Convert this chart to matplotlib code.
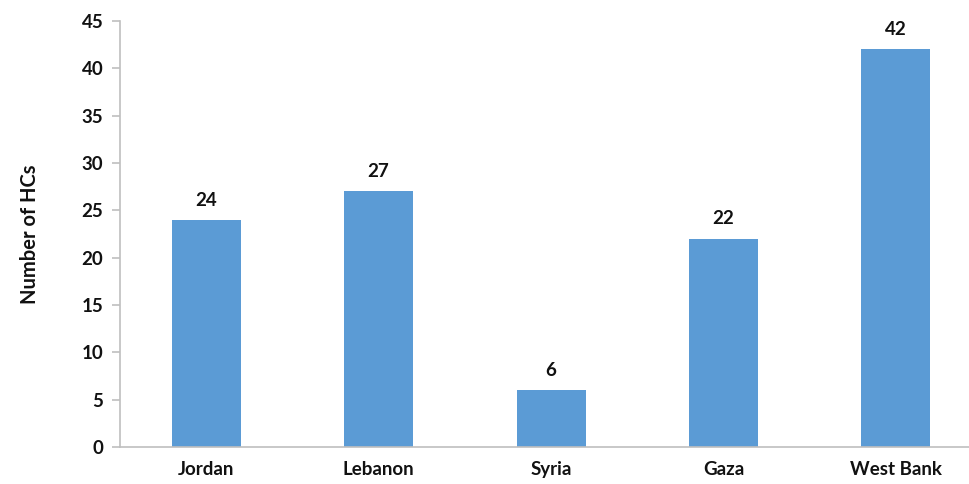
import matplotlib
matplotlib.use("Agg")
import matplotlib.pyplot as plt

# Dati
categories = ["Jordan", "Lebanon", "Syria", "Gaza", "West Bank"]
values = [24, 27, 6, 22, 42]
y_ticks = [0, 5, 10, 15, 20, 25, 30, 35, 40, 45]

plt.rcParams['font.family'] = ['Lato', 'DejaVu Sans']

fig = plt.figure(figsize=(9.7, 4.84), dpi=100)
ax = fig.add_axes([0.1237, 0.0764, 0.8763, 0.880])

x = range(len(categories))
bars = ax.bar(x, values, width=0.4, color='#5B9BD5', zorder=2)

for xi, v in zip(x, values):
    ax.text(xi, v + 1.2, str(v), ha='center', va='bottom', fontsize=13.5, fontweight='bold', color='#111111')

ax.set_xlim(-0.5, 4.43)
ax.set_ylim(0, 45)
ax.set_yticks(y_ticks)
ax.set_xticks(list(x))
ax.set_xticklabels(categories)

for side in ['top', 'right']:
    ax.spines[side].set_visible(False)
for side in ['left', 'bottom']:
    ax.spines[side].set_color('#BFBFBF')
    ax.spines[side].set_linewidth(1.2)

ax.tick_params(axis='y', length=6, width=1.2, color='#BFBFBF', pad=6, labelsize=13.5, labelcolor='#111111')
ax.tick_params(axis='x', length=0, pad=10, labelsize=13.5, labelcolor='#111111')
for lbl in ax.get_xticklabels() + ax.get_yticklabels():
    lbl.set_fontweight('bold')

ax.set_ylabel('Number of HCs', fontsize=14.5, fontweight='bold', color='#111111', labelpad=30)

plt.savefig("out.png", dpi=100)
plt.close()
